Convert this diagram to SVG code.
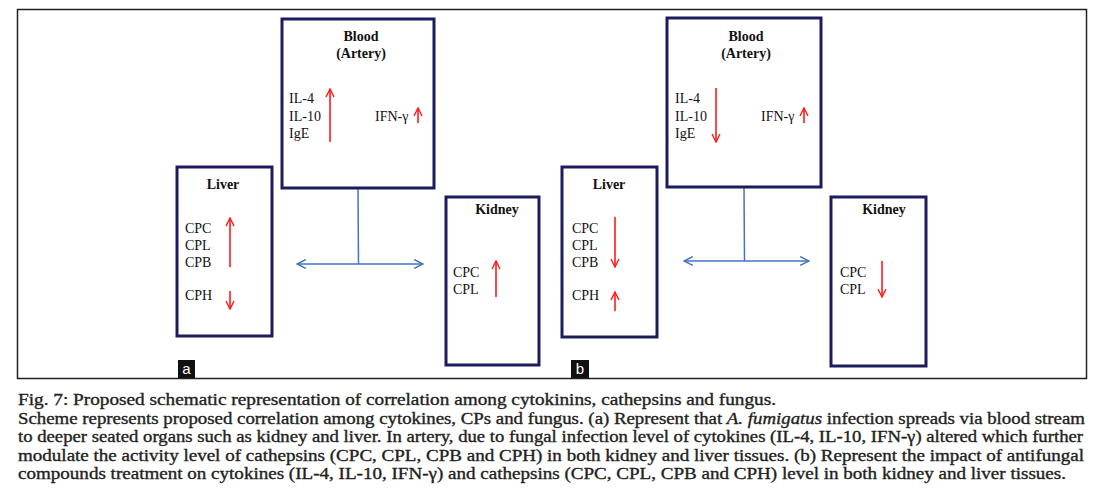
<svg xmlns="http://www.w3.org/2000/svg" width="1095" height="504" viewBox="0 0 1095 504">
<defs>
<marker id="rh" viewBox="0 0 10 10" refX="9" refY="5" markerWidth="10" markerHeight="10" markerUnits="userSpaceOnUse" orient="auto-start-reverse">
<path d="M1,1 L9,5 L1,9" fill="none" stroke="#ff1a1a" stroke-width="1.4"/>
</marker>
<marker id="bh" viewBox="0 0 10 10" refX="9" refY="5" markerWidth="11" markerHeight="11" markerUnits="userSpaceOnUse" orient="auto-start-reverse">
<path d="M1,1 L9,5 L1,9" fill="none" stroke="#4472c4" stroke-width="1.4"/>
</marker>
</defs>
<style>
.box{fill:#fff;stroke:#1c1c5c;stroke-width:3}
.t{font-family:"Liberation Serif","Times New Roman",serif;font-size:14px;fill:#111}
.tb{font-family:"Liberation Serif","Times New Roman",serif;font-size:14px;font-weight:bold;fill:#111;text-anchor:middle}
.ra{stroke:#ff1a1a;stroke-width:1.6;fill:none;marker-end:url(#rh)}
.bl{stroke:#4472c4;stroke-width:1.5;fill:none}
.ba{stroke:#4472c4;stroke-width:1.5;fill:none;marker-start:url(#bh);marker-end:url(#bh)}
.cap{font-family:"Liberation Serif","Palatino Linotype",serif;font-size:16px;fill:#231f20;stroke:#231f20;stroke-width:0.35}
.lab{font-family:"Liberation Sans",Arial,sans-serif;font-size:15px;fill:#fff;text-anchor:middle}
</style>
<rect x="0" y="0" width="1095" height="504" fill="#fff"/>
<rect x="17.5" y="9.5" width="1069" height="369" fill="none" stroke="#222" stroke-width="1.5"/>

<g id="connectors">
<line class="bl" x1="358" y1="189" x2="358.5" y2="264"/>
<line class="ba" x1="297" y1="264" x2="423" y2="264"/>
<line class="bl" x1="744" y1="186" x2="744.5" y2="261"/>
<line class="ba" x1="684" y1="261" x2="809" y2="261"/>
</g>

<g id="blood-a">
<rect class="box" x="282" y="19" width="152" height="169"/>
<text class="tb" x="361" y="41">Blood</text>
<text class="tb" x="361" y="58">(Artery)</text>
<text class="t" x="289" y="103">IL-4</text>
<text class="t" x="289" y="121">IL-10</text>
<text class="t" x="289" y="138">IgE</text>
<line class="ra" x1="330" y1="142" x2="330" y2="89"/>
<text class="t" x="375" y="121">IFN-γ</text>
<line class="ra" x1="418" y1="123" x2="418" y2="108"/>
</g>

<g id="liver-a">
<rect class="box" x="177" y="167" width="95" height="169"/>
<text class="tb" x="223" y="189">Liver</text>
<text class="t" x="185" y="233">CPC</text>
<text class="t" x="185" y="250">CPL</text>
<text class="t" x="185" y="267">CPB</text>
<text class="t" x="185" y="300">CPH</text>
<line class="ra" x1="230" y1="267" x2="230" y2="218"/>
<line class="ra" x1="230" y1="291" x2="230" y2="309"/>
</g>

<g id="kidney-a">
<rect class="box" x="446" y="197" width="93" height="168"/>
<text class="tb" x="497" y="214">Kidney</text>
<text class="t" x="453" y="277">CPC</text>
<text class="t" x="453" y="294">CPL</text>
<line class="ra" x1="496" y1="297" x2="496" y2="261"/>
</g>

<g id="label-a">
<rect x="178" y="360" width="17" height="18" fill="#111"/>
<text class="lab" x="186.5" y="374">a</text>
</g>

<g id="blood-b">
<rect class="box" x="667" y="18" width="154" height="169"/>
<text class="tb" x="746" y="41">Blood</text>
<text class="tb" x="746" y="58">(Artery)</text>
<text class="t" x="675" y="103">IL-4</text>
<text class="t" x="675" y="121">IL-10</text>
<text class="t" x="675" y="138">IgE</text>
<line class="ra" x1="716" y1="88" x2="716" y2="142"/>
<text class="t" x="761" y="121">IFN-γ</text>
<line class="ra" x1="804" y1="123" x2="804" y2="108"/>
</g>

<g id="liver-b">
<rect class="box" x="562" y="167" width="95" height="170"/>
<text class="tb" x="609" y="189">Liver</text>
<text class="t" x="572" y="233">CPC</text>
<text class="t" x="572" y="250">CPL</text>
<text class="t" x="572" y="267">CPB</text>
<text class="t" x="572" y="300">CPH</text>
<line class="ra" x1="615" y1="217" x2="615" y2="267"/>
<line class="ra" x1="615" y1="311" x2="615" y2="292"/>
</g>

<g id="kidney-b">
<rect class="box" x="831" y="197" width="95" height="169"/>
<text class="tb" x="884" y="214">Kidney</text>
<text class="t" x="840" y="277">CPC</text>
<text class="t" x="840" y="294">CPL</text>
<line class="ra" x1="882" y1="261" x2="882" y2="297"/>
</g>

<g id="label-b">
<rect x="571" y="360" width="18" height="18" fill="#111"/>
<text class="lab" x="580" y="374">b</text>
</g>

<g id="caption">
<text class="cap" x="18" y="405" textLength="758" lengthAdjust="spacingAndGlyphs">Fig. 7: Proposed schematic representation of correlation among cytokinins, cathepsins and fungus.</text>
<text class="cap" x="18" y="423.5" textLength="1067" lengthAdjust="spacingAndGlyphs">Scheme represents proposed correlation among cytokines, CPs and fungus. (a) Represent that <tspan font-style="italic">A. fumigatus</tspan> infection spreads via blood stream</text>
<text class="cap" x="18" y="442" textLength="1065" lengthAdjust="spacingAndGlyphs">to deeper seated organs such as kidney and liver. In artery, due to fungal infection level of cytokines (IL-4, IL-10, IFN-γ) altered which further</text>
<text class="cap" x="18" y="460.5" textLength="1066" lengthAdjust="spacingAndGlyphs">modulate the activity level of cathepsins (CPC, CPL, CPB and CPH) in both kidney and liver tissues. (b) Represent the impact of antifungal</text>
<text class="cap" x="18" y="479" textLength="1048" lengthAdjust="spacingAndGlyphs">compounds treatment on cytokines (IL-4, IL-10, IFN-γ) and cathepsins (CPC, CPL, CPB and CPH) level in both kidney and liver tissues.</text>
</g>
</svg>
